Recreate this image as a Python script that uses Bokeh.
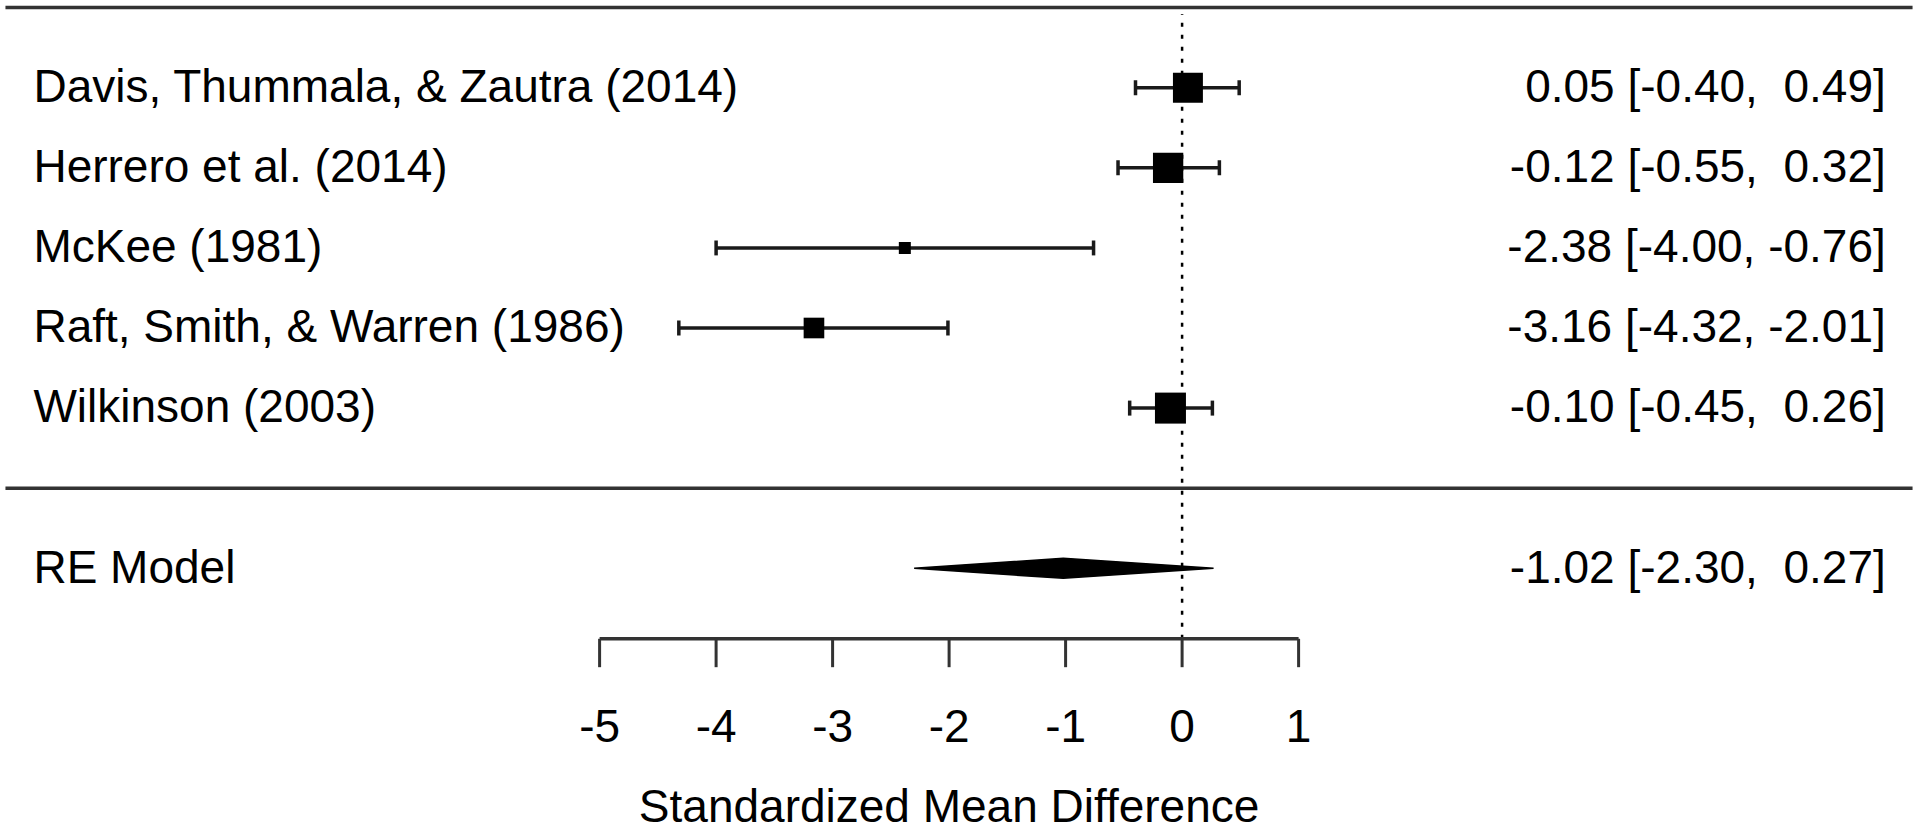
from bokeh.plotting import figure
from bokeh.models import Range1d, ColumnDataSource
from bokeh.core.properties import value
from bokeh.embed import file_html
from bokeh.resources import INLINE

# ---------------- data ----------------
studies = ["Davis, Thummala, & Zautra (2014)", "Herrero et al. (2014)", "McKee (1981)",
           "Raft, Smith, & Warren (1986)", "Wilkinson (2003)"]
estimates = [0.05, -0.12, -2.38, -3.16, -0.10]
ci_lower = [-0.40, -0.55, -4.00, -4.32, -0.45]
ci_upper = [0.49, 0.32, -0.76, -2.01, 0.26]
weights = [21.5, 21.6, 16.3, 18.8, 21.8]   # relative (RE) weights, drive square size

model_label = "RE Model"
model_est = -1.02
model_lower = -2.30
model_upper = 0.27

x_ticks = [-5, -4, -3, -2, -1, 0, 1]
x_tick_labels = ["-5", "-4", "-3", "-2", "-1", "0", "1"]
x_title = "Standardized Mean Difference"

# ---------------- layout constants ----------------
W, H = 1920, 833
UNIT_PX = 116.5
ZERO_PX = 1181.6
X0, X1 = -ZERO_PX / UNIT_PX, (W - ZERO_PX) / UNIT_PX
ROW_PX = 80.1
ROW0_PX = 487.7
Y1 = ROW0_PX / ROW_PX
Y0 = Y1 - H / ROW_PX
XLIM = (-10.10, 6.27)
FONT = value("Liberation Sans")
FS = value("46px")
LINE_COL = "#333333"
TXT_SHIFT = -14  # px, compensates the renderer's baseline placement

k = len(studies)
rows = list(range(k, 0, -1))
model_row = -1
sep_row = 0
top_row = k + 1
axis_row = -1.88
tick_len = 28.4 / ROW_PX
label_x = -9.86
right_x = 6.04
cap_half = 7.5 / ROW_PX
diamond_half = 10.0 / ROW_PX

wmin, wmax = min(weights), max(weights)
sizes = [12 + 19 * (w - wmin) / (wmax - wmin) for w in weights]


def fmt(e, l, u):
    s = f"{e:.2f} [{l:5.2f}, {u:5.2f}]"
    return s.replace("  ", " \u00a0")


p = figure(width=W, height=H, output_backend="svg", toolbar_location=None,
           x_range=Range1d(X0, X1), y_range=Range1d(Y0, Y1),
           x_axis_location=None, y_axis_location=None, min_border=0)
p.grid.visible = False
p.outline_line_color = None
p.background_fill_color = "white"
p.border_fill_color = "white"

# horizontal rules
p.segment(x0=[XLIM[0], XLIM[0]], y0=[top_row, sep_row], x1=[XLIM[1], XLIM[1]],
          y1=[top_row, sep_row], line_color=LINE_COL, line_width=3.5)

# reference line at 0
p.segment(x0=[0], y0=[axis_row], x1=[0], y1=[k + 1 - 0.08],
          line_color="black", line_width=2.5, line_dash="4 8")

src = ColumnDataSource(dict(row=rows, est=estimates, lb=ci_lower, ub=ci_upper,
                            size=sizes, name=studies,
                            lab=[fmt(e, l, u) for e, l, u in zip(estimates, ci_lower, ci_upper)],
                            cap_lo=[r - cap_half for r in rows],
                            cap_hi=[r + cap_half for r in rows]))

# CI whiskers
p.segment(x0="lb", y0="row", x1="ub", y1="row", source=src, line_color="#1a1a1a", line_width=3.5)
p.segment(x0="lb", y0="cap_lo", x1="lb", y1="cap_hi", source=src, line_color="#1a1a1a", line_width=3.5)
p.segment(x0="ub", y0="cap_lo", x1="ub", y1="cap_hi", source=src, line_color="#1a1a1a", line_width=3.5)

# squares
p.rect(x="est", y="row", width="size", height="size", width_units="screen",
       height_units="screen", source=src, fill_color="black", line_color=None)

# summary diamond
p.patch(x=[model_lower, model_est, model_upper, model_est],
        y=[model_row, model_row + diamond_half, model_row, model_row - diamond_half],
        fill_color="black", line_color="black", line_width=1.5)

# study labels and estimates text
p.text(x=label_x, y="row", text="name", source=src, text_font=FONT, text_font_size=FS,
       text_baseline="alphabetic", text_align="left", y_offset=12 + TXT_SHIFT, text_color="black")
p.text(x=right_x, y="row", text="lab", source=src, text_font=FONT, text_font_size=FS,
       text_baseline="alphabetic", text_align="right", y_offset=12 + TXT_SHIFT, text_color="black")
p.text(x=[label_x], y=[model_row], text=[model_label], text_font=FONT, text_font_size=FS,
       text_baseline="alphabetic", text_align="left", y_offset=13 + TXT_SHIFT, text_color="black")
p.text(x=[right_x], y=[model_row], text=[fmt(model_est, model_lower, model_upper)],
       text_font=FONT, text_font_size=FS, text_baseline="alphabetic", text_align="right",
       y_offset=13 + TXT_SHIFT, text_color="black")

# x axis (drawn manually, spanning the tick range only)
p.segment(x0=[x_ticks[0]], y0=[axis_row], x1=[x_ticks[-1]], y1=[axis_row],
          line_color=LINE_COL, line_width=3.5)
p.segment(x0=x_ticks, y0=[axis_row] * len(x_ticks), x1=x_ticks,
          y1=[axis_row - tick_len] * len(x_ticks), line_color=LINE_COL, line_width=3)
p.text(x=x_ticks, y=[axis_row - tick_len] * len(x_ticks), text=x_tick_labels,
       text_font=FONT, text_font_size=FS, text_align="center", text_baseline="alphabetic",
       y_offset=73 + TXT_SHIFT, text_color="black")
p.text(x=[(x_ticks[0] + x_ticks[-1]) / 2], y=[axis_row - tick_len], text=[x_title],
       text_font=FONT, text_font_size=FS, text_align="center", text_baseline="alphabetic",
       y_offset=153 + TXT_SHIFT, text_color="black")

open("out.html", "w").write(file_html(p, INLINE))
